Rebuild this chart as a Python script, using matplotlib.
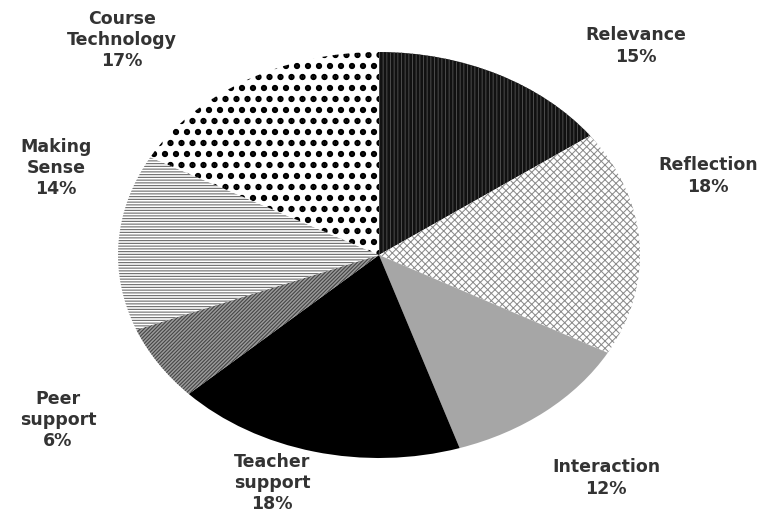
import matplotlib
matplotlib.use("Agg")
import matplotlib.pyplot as plt

# slice data, clockwise from 12 o'clock
categories = ["Relevance", "Reflection", "Interaction", "Teacher\nsupport",
              "Peer\nsupport", "Making\nSense", "Course\nTechnology"]
shares = [15, 18, 12, 18, 6, 14, 17]

# fill style per slice: (face, hatch colour, hatch, hatch width in pt)
styles = [
    ("#111111", "#4a4a4a", "|||", 1.1),
    ("#ffffff", "#8a8a8a", "xxx", 1.1),
    ("#a6a6a6", "#a6a6a6", None, 1.0),
    ("#000000", "#000000", None, 1.0),
    ("#9a9a9a", "#454545", "//////", 1.2),
    ("#ffffff", "#6a6a6a", "----", 1.2),
    ("#ffffff", "#000000", ".", 4.4),
]

# label centres in pixels (x from left, y from top)
label_pos = [(636, 46), (708, 176), (606, 478), (272, 483),
             (58, 420), (56, 168), (122, 40)]

W, H = 777, 515
# hatch tiles are one inch wide, so a low dpi gives the coarser grain of the original
DPI = 66
CX, CY, RX, RY = 379, 255, 261, 203

fig = plt.figure(figsize=(W / DPI, H / DPI), dpi=DPI)
ax = fig.add_axes([0, 0, 1, 1])

wedges, _ = ax.pie(shares, startangle=90, counterclock=False, radius=1,
                   center=(0, 0), frame=False,
                   wedgeprops=dict(linewidth=0))
for w, (face, hc, hatch, hlw) in zip(wedges, styles):
    w.set_facecolor(face)
    w.set_edgecolor(hc)
    w.set_linewidth(0)
    if hatch:
        w.set_hatch(hatch)
        if hasattr(w, "set_hatch_linewidth"):
            w.set_hatch_linewidth(hlw)

# stretch the pie into an ellipse like the original
ax.set_aspect("auto")
ax.set_xlim(-CX / RX, (W - CX) / RX)
ax.set_ylim(-(H - CY) / RY, CY / RY)
ax.axis("off")

for name, v, (px, py) in zip(categories, shares, label_pos):
    fig.text(px / W, 1 - py / H, f"{name}\n{v}%", ha="center", va="center",
             multialignment="center", fontsize=12.5 * 100 / DPI,
             fontweight="bold", family="DejaVu Sans", color="#333333",
             linespacing=1.22)

fig.savefig("out.png", dpi=DPI, facecolor="white")
